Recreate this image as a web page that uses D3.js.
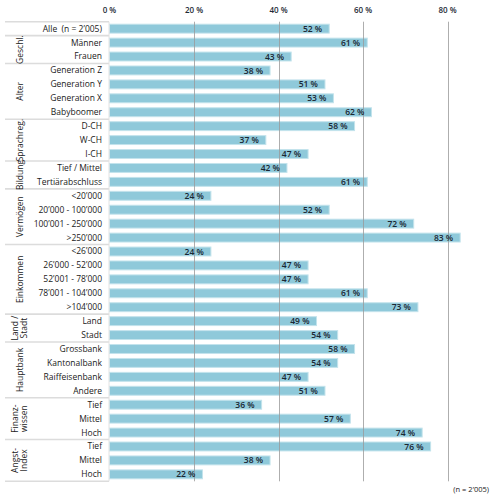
<!DOCTYPE html>
<html>
<head>
<meta charset="utf-8">
<script src="https://cdn.jsdelivr.net/npm/d3@7"></script>
<style>
  body { margin: 0; background: #fff; }
  text { font-family: "Open Sans", "Noto Sans", sans-serif; }
</style>
</head>
<body>
<div id="chart"></div>
<script>
// rows, top to bottom
let categories = [
  "Alle \u00a0(n = 2’005)",
  "Männer", "Frauen",
  "Generation Z", "Generation Y", "Generation X", "Babyboomer",
  "D-CH", "W-CH", "I-CH",
  "Tief / Mittel", "Tertiärabschluss",
  "<20’000", "20’000 - 100’000", "100’001 - 250’000", ">250’000",
  "<26’000", "26’000 - 52’000", "52’001 - 78’000", "78’001 - 104’000", ">104’000",
  "Land", "Stadt",
  "Grossbank", "Kantonalbank", "Raiffeisenbank", "Andere",
  "Tief", "Mittel", "Hoch",
  "Tief", "Mittel", "Hoch"
];

let values = [
  52,
  61, 43,
  38, 51, 53, 62,
  58, 37, 47,
  42, 61,
  24, 52, 72, 83,
  24, 47, 47, 61, 73,
  49, 54,
  58, 54, 47, 51,
  36, 57, 74,
  76, 38, 22
];

// group name lines and how many rows each group spans
let groupNames = [
  [],
  ["Geschl."],
  ["Alter"],
  ["Sprachreg."],
  ["Bildung"],
  ["Vermögen"],
  ["Einkommen"],
  ["Land /", "Stadt"],
  ["Hauptbank"],
  ["Finanz-", "wissen"],
  ["Angst-", "Index"]
];
let groupSizes = [1, 2, 4, 3, 2, 4, 5, 2, 4, 3, 3];

let xTicks = [0, 20, 40, 60, 80];

let dim = { width: 495, height: 500 };

let rows = categories.map((c, i) => ({ id: i, label: c, value: values[i] }));

let svg = d3.select("#chart").append("svg")
    .attr("width", dim.width)
    .attr("height", dim.height);

let scaleX = d3.scaleLinear()
    .domain([0, 100])
    .range([109.5, 532]);

let scaleY = d3.scaleBand()
    .domain(rows.map(d => d.id))
    .range([21.7, 481.3])
    .paddingInner(0.36)
    .paddingOuter(0.18);

let yTop = scaleY.range()[0];
let yBottom = scaleY.range()[1];
let step = scaleY.step();

// bars
svg.append("g")
  .selectAll("rect")
  .data(rows)
  .join("rect")
    .attr("x", scaleX(0))
    .attr("y", d => scaleY(d.id))
    .attr("width", d => scaleX(d.value) - scaleX(0))
    .attr("height", scaleY.bandwidth())
    .attr("fill", "#8fc9da")
    .attr("stroke", "#c3e3ec")
    .attr("stroke-width", 1);

// grid lines (drawn over the bars)
svg.append("g")
  .selectAll("line")
  .data(xTicks.slice(1))
  .join("line")
    .attr("x1", d => Math.round(scaleX(d)) + 0.5)
    .attr("x2", d => Math.round(scaleX(d)) + 0.5)
    .attr("y1", yTop)
    .attr("y2", yBottom)
    .attr("stroke", "#9a9a9a")
    .attr("stroke-opacity", 0.8)
    .attr("stroke-width", 1);

// top axis labels
svg.append("g")
  .selectAll("text")
  .data(xTicks)
  .join("text")
    .attr("x", d => scaleX(d))
    .attr("y", 13)
    .attr("text-anchor", "middle")
    .attr("font-size", 8)
    .attr("font-weight", 600)
    .attr("fill", "#1e2a36")
    .text(d => d + " %");

// value labels
svg.append("g")
  .selectAll("text")
  .data(rows)
  .join("text")
    .attr("x", d => scaleX(d.value) - 7)
    .attr("y", d => scaleY(d.id) + scaleY.bandwidth() / 2)
    .attr("dy", "0.36em")
    .attr("text-anchor", "end")
    .attr("font-size", 8.5)
    .attr("font-weight", 600)
    .attr("fill", "#1a2733")
    .text(d => d.value + " %");

// category labels
svg.append("g")
  .selectAll("text")
  .data(rows)
  .join("text")
    .attr("x", 102)
    .attr("y", d => scaleY(d.id) + scaleY.bandwidth() / 2)
    .attr("dy", "0.35em")
    .attr("text-anchor", "end")
    .attr("font-size", 8.5)
    .attr("fill", "#1a1a1a")
    .text(d => d.label);

// group separators and names
let starts = [];
let acc = 0;
groupSizes.forEach(n => { starts.push(acc); acc += n; });

let groups = groupNames.map((g, i) => ({
  lines: g,
  y0: yTop + starts[i] * step,
  y1: yTop + (starts[i] + groupSizes[i]) * step
}));

let sep = svg.append("g");
sep.selectAll("line.h")
  .data([yTop].concat(groups.map(g => g.y1)))
  .join("line")
    .attr("class", "h")
    .attr("x1", 5)
    .attr("x2", 109)
    .attr("y1", d => d)
    .attr("y2", d => d)
    .attr("stroke", "#dcdcdc")
    .attr("stroke-width", 1.6);

sep.append("line")
    .attr("x1", 109)
    .attr("x2", 109)
    .attr("y1", yTop)
    .attr("y2", yBottom)
    .attr("stroke", "#e2e2e2")
    .attr("stroke-width", 1);

groups.forEach(g => {
  let cy = (g.y0 + g.y1) / 2;
  let n = g.lines.length;
  g.lines.forEach((line, j) => {
    let cx = 20 + (j - (n - 1) / 2) * 9;
    svg.append("text")
        .attr("transform", `translate(${cx},${cy}) rotate(-90)`)
        .attr("text-anchor", "middle")
        .attr("dy", "0.35em")
        .attr("font-size", 8.5)
        .attr("fill", "#1a1a1a")
        .text(line);
  });
});

// sample note
svg.append("text")
    .attr("x", 489)
    .attr("y", 492)
    .attr("text-anchor", "end")
    .attr("font-size", 7.5)
    .attr("fill", "#1a1a1a")
    .text("(n = 2’005)");
</script>
</body>
</html>
